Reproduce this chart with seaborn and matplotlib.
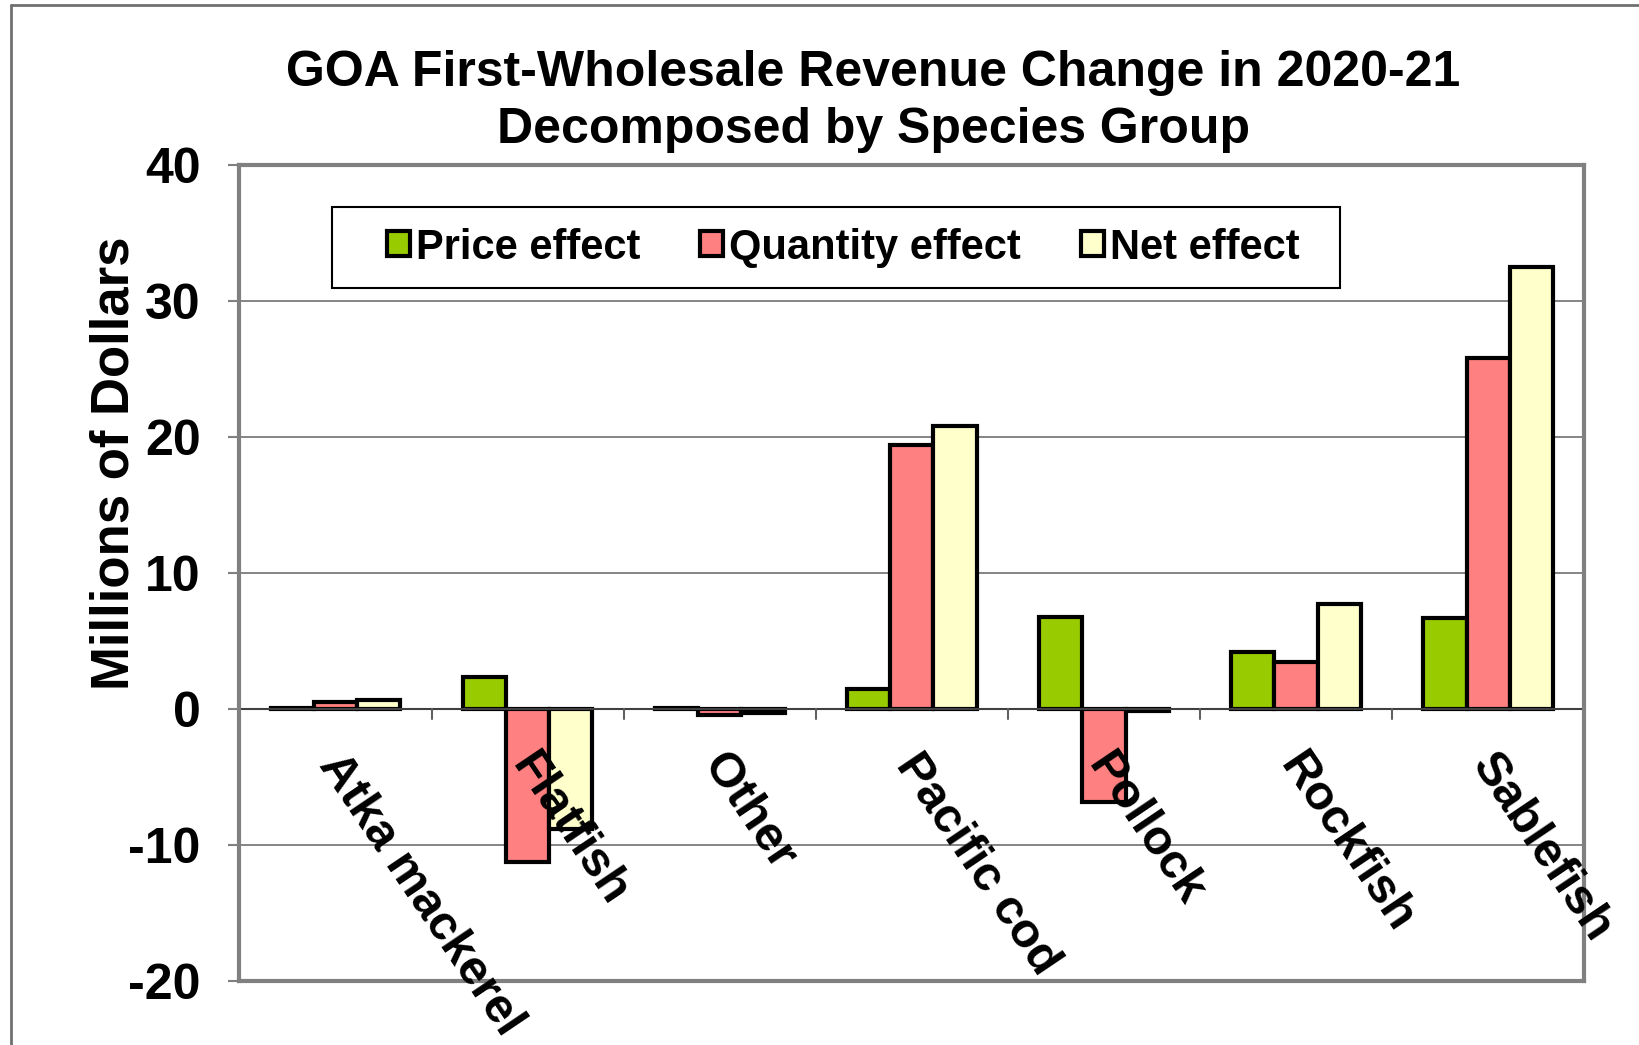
import pandas as pd
import matplotlib.pyplot as plt
import seaborn as sns
from matplotlib.lines import Line2D
from matplotlib.patches import Rectangle

# Valores (milhões de dólares)
species = ['Atka mackerel', 'Flatfish', 'Other', 'Pacific cod', 'Pollock', 'Rockfish', 'Sablefish']
price_effect = [0.1, 2.4, 0.1, 1.5, 6.8, 4.2, 6.7]
quantity_effect = [0.5, -11.2, -0.4, 19.4, -6.8, 3.5, 25.8]
net_effect = [0.7, -8.8, -0.3, 20.8, -0.1, 7.7, 32.5]
effects = ['Price effect', 'Quantity effect', 'Net effect']
colors = ['#99cc00', '#ff8080', '#ffffcc']
y_ticks = [-20, -10, 0, 10, 20, 30, 40]

df = pd.DataFrame({
    'Species': species * 3,
    'Effect': [effects[0]] * 7 + [effects[1]] * 7 + [effects[2]] * 7,
    'Value': price_effect + quantity_effect + net_effect,
})

sns.set_style('white')
plt.rcParams['font.family'] = ['Liberation Sans', 'DejaVu Sans']
plt.rcParams['font.weight'] = 'bold'
plt.rcParams['text.color'] = 'black'
plt.rcParams['axes.labelcolor'] = 'black'
plt.rcParams['ytick.labelcolor'] = 'black'

fig = plt.figure(figsize=(16.4, 10.45), dpi=100)
ax = fig.add_axes([0.146, 0.061, 0.82, 0.781])

sns.barplot(data=df, x='Species', y='Value', hue='Effect', palette=colors,
            width=0.675, edgecolor='black', linewidth=3, saturation=1, ax=ax)

ax.set_ylim(-20, 40)
ax.set_xlim(-0.5, len(species) - 0.5)
ax.set_yticks(y_ticks)
ax.set_yticklabels([str(t) for t in y_ticks], fontsize=36, fontweight='bold')
ax.tick_params(axis='y', length=8, width=1.5, color='#808080', pad=20, left=True)
ax.grid(axis='y', color='#707070', linewidth=1.2)
ax.set_axisbelow(True)
for s in ax.spines.values():
    s.set_color('#808080')
    s.set_linewidth(3)

# eixo das categorias cruza no zero
ax.axhline(0, color='#404040', linewidth=1.5, zorder=1)
ax.set_xticks([])
ax.set_xlabel('')
for i in range(len(species) - 1):
    ax.plot([i + 0.5, i + 0.5], [0, -0.7], color='#606060', linewidth=1.5)
for i, name in enumerate(species):
    ax.annotate(name, xy=(i, 0), xytext=(-5, -35), textcoords='offset points',
                rotation=-56, rotation_mode='anchor', ha='left', va='center',
                fontsize=35, fontweight='bold', annotation_clip=False)

ax.set_ylabel('Millions of Dollars', fontsize=38, fontweight='bold')
ax.yaxis.set_label_coords(-0.074, 0.635)

# legenda com caixa própria (mais larga que alta, como no original)
leg = ax.legend(loc='center', bbox_to_anchor=(0.449, 0.899), ncol=3, fontsize=30,
                frameon=False, handlelength=0.55, handleheight=0.55,
                handletextpad=0.15, columnspacing=1.43)
for h in leg.legend_handles:
    h.set_edgecolor('black')
    h.set_linewidth(3)
ax.add_patch(Rectangle((0.0685, 0.850), 0.7502, 0.099, transform=ax.transAxes,
                       facecolor='white', edgecolor='black', linewidth=1.5, zorder=4))
leg.set_zorder(5)

fig.text(0.5325, 0.952, 'GOA First-Wholesale Revenue Change in 2020-21\nDecomposed by Species Group',
         ha='center', va='top', fontsize=36, fontweight='bold', linespacing=1.3)

# moldura externa (cortada à direita e em baixo)
fig.add_artist(Line2D([0.0067, 0.0067], [0, 0.995], color='#707070', linewidth=2))
fig.add_artist(Line2D([0.0067, 1], [0.995, 0.995], color='#707070', linewidth=2))

plt.savefig('out.png', dpi=100)
